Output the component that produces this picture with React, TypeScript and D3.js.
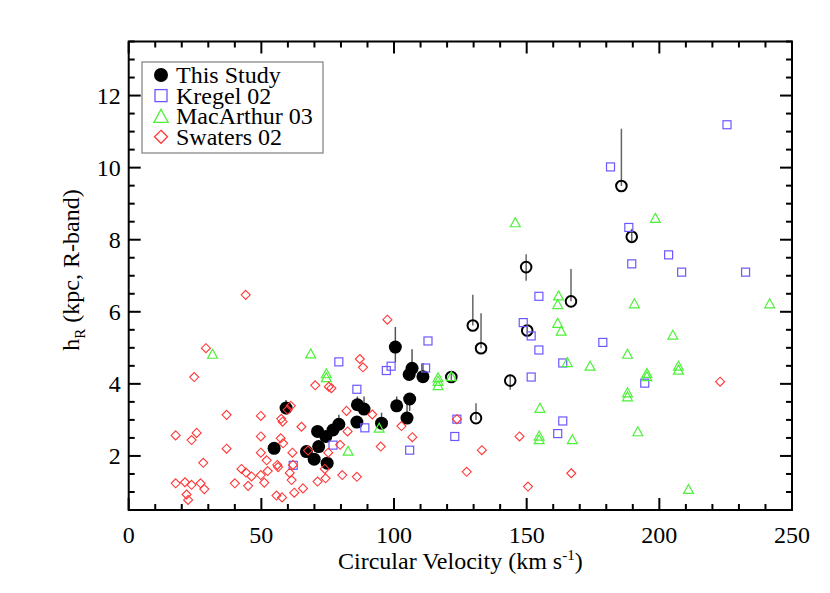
import React from 'react';
import * as d3 from 'd3';

// This Study (filled)
const studyV = [54.8, 59.3, 67.0, 69.9, 71.2, 71.6, 74.3, 74.8, 77.0, 79.2, 86.2, 86.0, 88.7, 95.3, 100.5, 101.0, 104.9, 105.9, 105.7, 106.8, 110.9];
const studyH = [2.21, 3.33, 2.12, 1.91, 2.68, 2.26, 2.54, 1.80, 2.72, 2.88, 3.42, 2.94, 3.30, 2.91, 5.02, 3.39, 3.05, 3.58, 4.26, 4.43, 4.20];
const studyLo = [2.1, 3.15, 2.05, 1.85, 2.6, 2.2, 2.45, 1.75, 2.6, 2.75, 3.3, 2.85, 3.2, 2.75, 4.6, 3.3, 2.95, 3.25, 4.15, 4.3, 4.1];
const studyHi = [2.3, 3.55, 2.2, 2.0, 2.8, 2.35, 2.65, 1.9, 2.85, 3.14, 3.65, 3.05, 3.65, 3.2, 5.58, 3.65, 3.5, 3.75, 4.4, 4.96, 4.58];

// This Study (open)
const openV = [121.6, 129.7, 130.9, 132.8, 143.8, 149.8, 150.2, 166.7, 185.7, 189.6];
const openH = [4.19, 5.62, 3.05, 4.99, 4.09, 7.24, 5.48, 6.29, 9.49, 8.08];
const openLo = [4.1, 5.62, 3.0, 4.99, 3.84, 6.86, 5.4, 6.29, 9.49, 7.95];
const openHi = [4.3, 6.47, 3.46, 5.96, 4.25, 7.6, 5.6, 7.19, 11.08, 8.3];

// Kregel 02
const kregelV = [62.0, 77.0, 79.2, 86.0, 89.0, 97.1, 98.9, 105.9, 111.9, 112.8, 122.9, 123.7, 148.7, 151.7, 151.7, 154.6, 154.6, 161.7, 163.6, 163.6, 178.7, 181.6, 188.5, 189.6, 194.5, 203.5, 208.4, 225.5, 232.5];
const kregelH = [1.74, 2.30, 4.61, 3.85, 2.78, 4.37, 4.49, 2.16, 4.44, 5.19, 2.54, 3.02, 5.70, 5.33, 4.19, 6.43, 4.94, 2.62, 4.58, 2.97, 5.15, 10.02, 8.34, 7.33, 4.02, 7.58, 7.10, 11.19, 7.10];

// MacArthur 03
const macV = [31.6, 68.6, 74.5, 74.5, 82.7, 94.4, 116.6, 116.6, 116.6, 121.6, 145.7, 155.0, 154.7, 154.7, 162.0, 161.7, 161.7, 163.0, 165.3, 167.2, 173.9, 188.0, 188.0, 188.0, 190.6, 191.9, 195.3, 195.3, 198.5, 205.1, 207.2, 207.2, 211.0, 241.6];
const macH = [4.81, 4.82, 4.27, 4.16, 2.12, 2.76, 4.16, 4.06, 3.94, 4.19, 8.46, 3.31, 2.54, 2.44, 6.43, 6.19, 5.67, 5.45, 4.58, 2.44, 4.48, 4.81, 3.74, 3.63, 6.21, 2.66, 4.28, 4.19, 8.58, 5.34, 4.48, 4.37, 1.06, 6.21];

// Swaters 02
const swV = [44.1, 29.1, 24.7, 36.9, 49.8, 17.7, 25.6, 23.7, 36.9, 49.8,
  49.8, 52.0, 28.1, 42.5, 44.2, 46.3, 17.7, 21.2, 23.7, 27.1,
  28.5, 21.8, 22.4, 40.0, 45.0, 49.8, 51.1, 52.4, 57.3, 58.2,
  56.0, 56.3, 57.5, 58.0, 59.9, 61.1, 61.7, 60.7, 61.4, 55.7,
  57.8, 65.1, 62.4, 65.7, 70.3, 75.4, 76.4, 67.6, 71.2, 74.2,
  73.9, 75.2, 80.5, 82.1, 82.5, 79.7, 86.0, 87.1, 88.3, 97.5,
  91.8, 102.8, 95.0, 106.9, 123.7, 133.1, 127.4, 147.3, 150.5, 166.8,
  222.9, 61.9];
const swH = [6.47, 4.99, 4.19, 3.14, 3.11, 2.57, 2.64, 2.44, 2.20, 2.54,
  2.09, 1.88, 1.81, 1.64, 1.54, 1.43, 1.24, 1.27, 1.20, 1.24,
  1.08, 0.93, 0.78, 1.24, 1.17, 1.47, 1.26, 1.58, 2.49, 2.35,
  1.75, 1.69, 3.03, 2.95, 3.28, 3.39, 2.09, 1.53, 1.33, 0.90,
  0.85, 2.81, 0.98, 1.10, 3.96, 3.92, 3.88, 2.15, 1.29, 1.38,
  1.64, 2.09, 1.47, 3.25, 2.68, 2.31, 1.42, 4.69, 4.46, 5.78,
  3.15, 2.83, 2.26, 2.52, 3.02, 2.16, 1.56, 2.54, 1.15, 1.52,
  4.06, 1.75];

const xTicks = [0, 50, 100, 150, 200, 250];
const yTicks = [2, 4, 6, 8, 10, 12];
const legendLabels = ['This Study', 'Kregel 02', 'MacArthur 03', 'Swaters 02'];

const BLUE = '#6a58ff';
const GREEN = '#4ef03a';
const RED = '#ff3838';
const FONT = '"Liberation Serif", "Times New Roman", serif';

export default function App() {
  const W = 830, H = 593;
  const L = 128.7, R = 792, T = 41.5, B = 510;
  const x = d3.scaleLinear().domain([0, 250]).range([L, R]);
  const y = d3.scaleLinear().domain([0.5, 13.5]).range([B, T]);
  const xMinor = d3.range(0, 251, 10);
  const yMinor = d3.range(0.5, 13.51, 0.5);
  const maj = 12, mnr = 6;

  const tri = (s: number) => `M0,${-s * 0.6}L${s * 0.55},${s * 0.4}L${-s * 0.55},${s * 0.4}Z`;
  const dia = (s: number) => `M0,${-s / 2}L${s / 2},0L0,${s / 2}L${-s / 2},0Z`;

  const tickStroke = { stroke: '#000', strokeWidth: 2 };

  return (
    <svg width={W} height={H} style={{ position: 'absolute', left: 0, top: 0, background: '#fff' }} fontFamily={FONT}>
      <rect x={0} y={0} width={W} height={H} fill="#fff" />
      {/* ticks */}
      {xMinor.map((v) => {
        const isMaj = v % 50 === 0;
        const len = isMaj ? maj : mnr;
        return (
          <g key={'xt' + v}>
            <line x1={x(v)} x2={x(v)} y1={B} y2={B - len} {...tickStroke} />
            <line x1={x(v)} x2={x(v)} y1={T} y2={T + len} {...tickStroke} />
          </g>
        );
      })}
      {yMinor.map((v) => {
        const isMaj = Math.abs(v / 2 - Math.round(v / 2)) < 1e-6;
        const len = isMaj ? maj : mnr;
        return (
          <g key={'yt' + v}>
            <line x1={L} x2={L + len} y1={y(v)} y2={y(v)} {...tickStroke} />
            <line x1={R} x2={R - len} y1={y(v)} y2={y(v)} {...tickStroke} />
          </g>
        );
      })}
      <rect x={L} y={T} width={R - L} height={B - T} fill="none" stroke="#000" strokeWidth={2} />
      {xTicks.map((v) => (
        <text key={'xl' + v} x={x(v)} y={B + 33} fontSize={24} textAnchor="middle">{v}</text>
      ))}
      {yTicks.map((v) => (
        <text key={'yl' + v} x={L - 8} y={y(v) + 8} fontSize={24} textAnchor="end">{v}</text>
      ))}
      <text x={(L + R) / 2} y={569} fontSize={24} textAnchor="middle">
        Circular Velocity (km s<tspan dy={-9} fontSize={15}>-1</tspan><tspan dy={9}>)</tspan>
      </text>
      <text transform={`translate(79,${270}) rotate(-90)`} fontSize={24} textAnchor="middle">
        h<tspan dy={6} fontSize={15}>R</tspan><tspan dy={-6}> (kpc, R-band)</tspan>
      </text>

      {/* This Study error bars */}
      {studyV.map((v, i) => (
        <line key={'se' + i} x1={x(v)} x2={x(v)} y1={y(studyLo[i])} y2={y(studyHi[i])} stroke="#555" strokeWidth={1.5} />
      ))}
      {openV.map((v, i) => (
        <line key={'oe' + i} x1={x(v)} x2={x(v)} y1={y(openLo[i])} y2={y(openHi[i])} stroke="#666" strokeWidth={1.5} />
      ))}
      {studyV.map((v, i) => (
        <circle key={'s' + i} cx={x(v)} cy={y(studyH[i])} r={6.5} fill="#000" />
      ))}
      {openV.map((v, i) => (
        <circle key={'o' + i} cx={x(v)} cy={y(openH[i])} r={5.3} fill="none" stroke="#000" strokeWidth={2} />
      ))}
      {kregelV.map((v, i) => (
        <rect key={'k' + i} x={x(v) - 4} y={y(kregelH[i]) - 4} width={8} height={8} fill="none" stroke={BLUE} strokeWidth={1.2} />
      ))}
      {macV.map((v, i) => (
        <path key={'m' + i} d={tri(9)} transform={`translate(${x(v)},${y(macH[i])})`} fill="none" stroke={GREEN} strokeWidth={1.2} />
      ))}
      {swV.map((v, i) => (
        <path key={'w' + i} d={dia(9)} transform={`translate(${x(v)},${y(swH[i])})`} fill="none" stroke={RED} strokeWidth={1.1} />
      ))}

      {/* legend */}
      <rect x={142} y={62} width={181} height={91} fill="#fff" stroke="#888" strokeWidth={1.3} />
      {legendLabels.map((lab, i) => {
        const cy = 75 + i * 20.6;
        let sym;
        if (i === 0) sym = <circle cx={161} cy={cy} r={7} fill="#000" />;
        else if (i === 1) sym = <rect x={155} y={cy - 6} width={12} height={12} fill="none" stroke={BLUE} strokeWidth={1.3} />;
        else if (i === 2) sym = <path d={tri(13)} transform={`translate(161,${cy + 1})`} fill="none" stroke={GREEN} strokeWidth={1.3} />;
        else sym = <path d={dia(13)} transform={`translate(161,${cy})`} fill="none" stroke={RED} strokeWidth={1.3} />;
        return (
          <g key={'lg' + i}>
            {sym}
            <text x={176} y={cy + 8} fontSize={24}>{lab}</text>
          </g>
        );
      })}
    </svg>
  );
}
